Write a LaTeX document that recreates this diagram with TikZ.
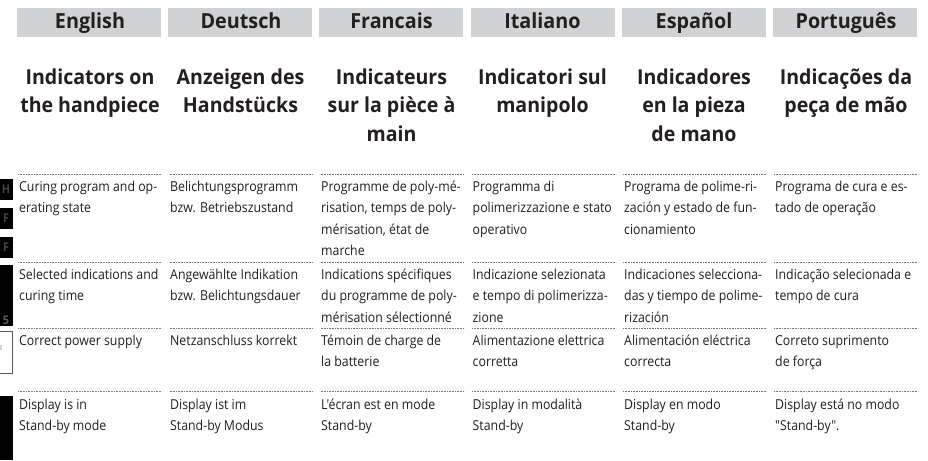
\documentclass[tikz,border=0pt]{standalone}
\usepackage{fontspec}
\setmainfont{Open Sans}
\newfontfamily\bodyfont[FakeStretch=0.9]{Open Sans}
\newfontfamily\headfont[FakeStretch=0.95]{Open Sans}
\definecolor{ink}{HTML}{231F20}
\definecolor{bar}{HTML}{D1D2D4}
\definecolor{rulecol}{HTML}{777777}
\definecolor{dim}{HTML}{454545}
\definecolor{boxline}{HTML}{5A5A5A}
\newcommand{\bodytxt}[1]{\parbox[t]{150pt}{\raggedright #1}}
\newcommand{\headtxt}[1]{\parbox[t]{150pt}{\centering #1}}
\tikzset{
 x=1pt,y=-1pt,
 langbar/.style={fill=bar,draw=none,minimum width=144pt,minimum height=29pt,inner sep=0pt,anchor=north west},
 langname/.style={font=\headfont\bfseries\fontsize{20.8}{20.8}\selectfont,text=ink,inner sep=0pt,anchor=base},
 headline/.style={font=\headfont\bfseries\fontsize{20.6}{28.5}\selectfont,text=ink,inner sep=0pt,anchor=base},
 bodycell/.style={font=\bodyfont\fontsize{13.7}{21.6}\selectfont,text=ink,inner sep=0pt,anchor=base west},
 sep/.style={draw=rulecol,line width=0.6pt,dash pattern=on 0.8pt off 0.8pt},
 lcd/.style={fill=black,draw=none,inner sep=0pt,anchor=north west,minimum width=13pt},
 lcdtext/.style={font=\bodyfont\bfseries\fontsize{12}{12}\selectfont,text=dim,inner sep=0pt},
}
\begin{document}
\begin{tikzpicture}
\useasboundingbox (0,0) rectangle (928,460);
\fill[white] (0,0) rectangle (928,460);
% language bars
\node[langbar] (b1) at (17,8) {};
\node[langbar] (b2) at (168,8) {};
\node[langbar] (b3) at (319,8) {};
\node[langbar] (b4) at (470.5,8) {};
\node[langbar] (b5) at (622,8) {};
\node[langbar] (b6) at (773,8) {};
\node[langname] (n1) at (90,29) {English};
\node[langname] (n2) at (241,29) {Deutsch};
\node[langname] (n3) at (391.5,29) {Francais};
\node[langname] (n4) at (542.5,29) {Italiano};
\node[langname] (n5) at (694,29) {Español};
\node[langname] (n6) at (846,29) {Português};
% headings
\node[headline] (h1) at (90,84) {\headtxt{Indicators on\\the handpiece}};
\node[headline] (h2) at (240.5,84) {\headtxt{Anzeigen des\\Handstücks}};
\node[headline] (h3) at (391.5,84) {\headtxt{Indicateurs\\sur la pièce à\\main}};
\node[headline] (h4) at (542.5,84) {\headtxt{Indicatori sul\\manipolo}};
\node[headline] (h5) at (694,84) {\headtxt{Indicadores\\en la pieza\\de mano}};
\node[headline] (h6) at (846,84) {\headtxt{Indicações da\\peça de mão}};
% separators
\foreach \c/\xa in {1/18,2/169.5,3/320.5,4/472,5/623,6/774}{
 \foreach \r/\ya in {1/174,2/262,3/328,4/391.5}{
  \coordinate (s\c\r a) at (\xa,\ya);
  \coordinate (s\c\r b) at (\xa+144,\ya);
  \draw[sep] (s\c\r a) -- (s\c\r b);
 }
}
% row 1
\node[bodycell] (c11) at (19,191) {\bodytxt{Curing program and op-\\erating state}};
\node[bodycell] (c12) at (170,191) {\bodytxt{Belichtungsprogramm\\bzw. Betriebszustand}};
\node[bodycell] (c13) at (321,191) {\bodytxt{Programme de poly-mé-\\risation, temps de poly-\\mérisation, état de\\marche}};
\node[bodycell] (c14) at (472.5,191) {\bodytxt{Programma di\\polimerizzazione e stato\\operativo}};
\node[bodycell] (c15) at (624,191) {\bodytxt{Programa de polime-ri-\\zación y estado de fun-\\cionamiento}};
\node[bodycell] (c16) at (775,191) {\bodytxt{Programa de cura e es-\\tado de operação}};
% row 2
\node[bodycell] (c21) at (19,279) {\bodytxt{Selected indications and\\curing time}};
\node[bodycell] (c22) at (170,279) {\bodytxt{Angewählte Indikation\\bzw. Belichtungsdauer}};
\node[bodycell] (c23) at (321,279) {\bodytxt{Indications spécifiques\\du programme de poly-\\mérisation sélectionné}};
\node[bodycell] (c24) at (472.5,279) {\bodytxt{Indicazione selezionata\\e tempo di polimerizza-\\zione}};
\node[bodycell] (c25) at (624,279) {\bodytxt{Indicaciones selecciona-\\das y tiempo de polime-\\rización}};
\node[bodycell] (c26) at (775,279) {\bodytxt{Indicação selecionada e\\tempo de cura}};
% row 3
\node[bodycell] (c31) at (19,345) {\bodytxt{Correct power supply}};
\node[bodycell] (c32) at (170,345) {\bodytxt{Netzanschluss korrekt}};
\node[bodycell] (c33) at (321,345) {\bodytxt{Témoin de charge de\\la batterie}};
\node[bodycell] (c34) at (472.5,345) {\bodytxt{Alimentazione elettrica\\corretta}};
\node[bodycell] (c35) at (624,345) {\bodytxt{Alimentación eléctrica\\correcta}};
\node[bodycell] (c36) at (775,345) {\bodytxt{Correto suprimento\\de força}};
% row 4
\node[bodycell] (c41) at (19,409) {\bodytxt{Display is in\\Stand-by mode}};
\node[bodycell] (c42) at (170,409) {\bodytxt{Display ist im\\Stand-by Modus}};
\node[bodycell] (c43) at (321,409) {\bodytxt{L'écran est en mode\\Stand-by}};
\node[bodycell] (c44) at (472.5,409) {\bodytxt{Display in modalità\\Stand-by}};
\node[bodycell] (c45) at (624,409) {\bodytxt{Display en modo\\Stand-by}};
\node[bodycell] (c46) at (775,409) {\bodytxt{Display está no modo\\"Stand-by".}};
% display pictograms at the left edge
\node[lcd,minimum height=21pt] (d1) at (0,179) {};
\node[lcd,minimum height=21pt] (d2) at (0,208) {};
\node[lcd,minimum height=21pt] (d3) at (0,237) {};
\node[lcd,minimum height=61pt] (d4) at (0,265) {};
\node[lcd,minimum height=64pt] (d6) at (0,396) {};
\node[fill=white,draw=boxline,line width=1pt,inner sep=0pt,minimum width=14pt,minimum height=42pt,anchor=north east] (d5) at (13,331) {};
\fill[bar] (0,345) rectangle (2,350);
\node[lcdtext] (g1) at (6,189.5) {H};
\node[lcdtext] (g2) at (6,218.5) {F};
\node[lcdtext] (g3) at (6,247.5) {F};
\node[lcdtext,text=boxline] (g4) at (6,320.5) {5};
\end{tikzpicture}
\end{document}
